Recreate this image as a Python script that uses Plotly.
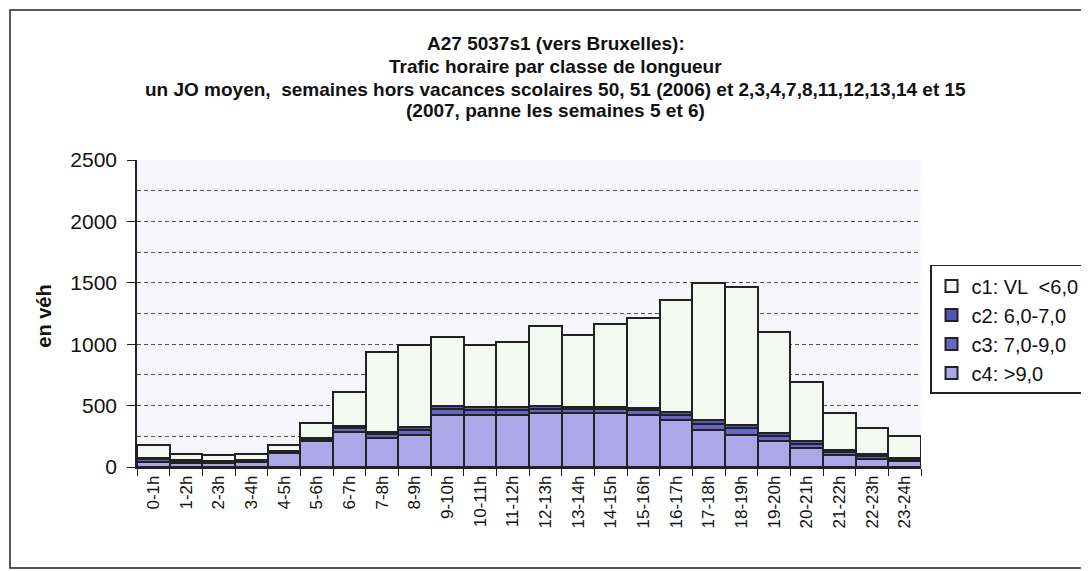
import plotly.graph_objects as go

hours = ["0-1h", "1-2h", "2-3h", "3-4h", "4-5h", "5-6h", "6-7h", "7-8h", "8-9h", "9-10h",
         "10-11h", "11-12h", "12-13h", "13-14h", "14-15h", "15-16h", "16-17h", "17-18h",
         "18-19h", "19-20h", "20-21h", "21-22h", "22-23h", "23-24h"]

c4_gt9 = [40, 35, 30, 40, 110, 215, 285, 236, 257, 420, 420, 420, 436, 436, 436, 422, 383, 304,
          264, 211, 153, 98, 66, 45]
c3_7_9 = [23, 13, 12, 13, 13, 16, 30, 32, 45, 49, 44, 44, 38, 34, 34, 39, 43, 50,
          50, 42, 38, 27, 26, 19]
c2_6_7 = [12, 7, 6, 7, 7, 9, 15, 17, 25, 26, 24, 24, 20, 19, 19, 21, 23, 30,
          30, 24, 20, 15, 14, 10]
c1_vl = [101, 50, 47, 45, 50, 120, 280, 650, 668, 563, 505, 530, 658, 585, 674, 728, 911, 1116,
         1118, 826, 479, 300, 212, 178]

names = ["c1: VL  <6,0", "c2: 6,0-7,0", "c3: 7,0-9,0", "c4: >9,0"]
colors = ["#f4faf1", "#5656b4", "#6666c4", "#aca7e8"]

FONT = "Liberation Sans, Arial, sans-serif"

fig = go.Figure()
series = [(c4_gt9, names[3], colors[3]), (c3_7_9, names[2], colors[2]),
          (c2_6_7, names[1], colors[1]), (c1_vl, names[0], colors[0])]
for vals, nm, col in series:
    fig.add_trace(go.Bar(x=hours, y=vals, name=nm, legendgroup=nm,
                         marker=dict(color=col, line=dict(color="#222222", width=2))))

title_lines = [
    "A27 5037s1 (vers Bruxelles):",
    "Trafic horaire par classe de longueur",
    "un JO moyen,  semaines hors vacances scolaires 50, 51 (2006) et 2,3,4,7,8,11,12,13,14 et 15",
    "(2007, panne les semaines 5 et 6)",
]
title_y = [1.378, 1.303, 1.231, 1.160]
for txt, yy in zip(title_lines, title_y):
    fig.add_annotation(text=f"<b>{txt}</b>", x=0.534, y=yy, xref="paper", yref="paper",
                       xanchor="center", yanchor="middle", showarrow=False,
                       font=dict(family=FONT, size=19, color="#111111"))

fig.add_annotation(text="<b>en véh</b>", x=-0.119, y=0.492, xref="paper", yref="paper",
                   textangle=-90, showarrow=False, xanchor="center", yanchor="middle",
                   font=dict(family=FONT, size=20, color="#111111"))

# outer chart frame (runs off the right edge, as in the scan)
fig.add_shape(type="rect", xref="paper", yref="paper", x0=-0.162, x1=1.3, y0=-0.329, y1=1.4886,
              line=dict(color="#222222", width=1.5), fillcolor="rgba(0,0,0,0)", layer="below")

fig.update_layout(
    width=1081, height=563,
    barmode="stack", bargap=0,
    paper_bgcolor="white", plot_bgcolor="#f6f6fb",
    margin=dict(l=129, r=168, t=152, b=104, autoexpand=False),
    font=dict(family=FONT, color="#111111"),
    showlegend=True,
    legend=dict(x=1.0115, y=0.658, xanchor="left", yanchor="top", traceorder="reversed",
                bordercolor="#222222", borderwidth=1.5, bgcolor="white",
                font=dict(family=FONT, size=20, color="#111111"), tracegroupgap=6,
                itemwidth=30),
)
fig.update_xaxes(type="category", tickangle=-90, tickfont=dict(family=FONT, size=17),
                 ticks="outside", tickson="boundaries", ticklen=7, tickcolor="#222222",
                 showline=True, linecolor="#222222", linewidth=1.5, showgrid=False)
fig.update_yaxes(range=[0, 2500], dtick=500, tickfont=dict(family=FONT, size=21),
                 ticks="outside", ticklen=8, tickcolor="#222222", ticklabelstandoff=6,
                 showline=True, linecolor="#222222", linewidth=1.5,
                 showgrid=True, gridcolor="#555555", griddash="4px,3px", gridwidth=1,
                 minor=dict(dtick=250, showgrid=True, gridcolor="#555555", griddash="4px,3px",
                            gridwidth=1),
                 zeroline=False)

fig.write_html("out.html")
